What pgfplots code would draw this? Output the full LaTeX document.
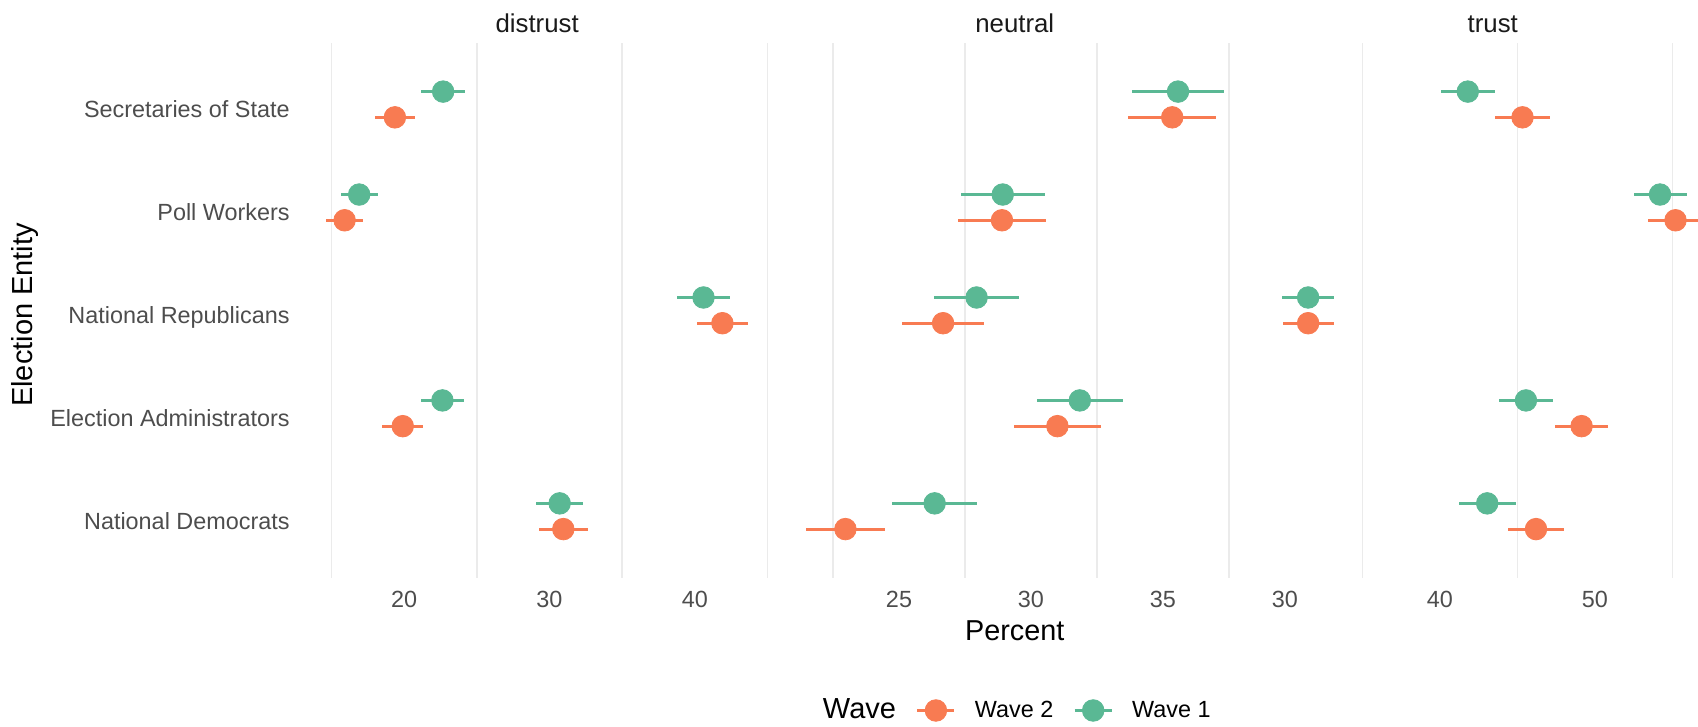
\documentclass[border=0pt]{standalone}
\usepackage{pgfplots}
\pgfplotsset{compat=1.18}
\usepackage{pgfplotstable}
\usepackage{fontspec}
\setmainfont{Liberation Sans}
\definecolor{wone}{HTML}{5AB894}
\definecolor{wtwo}{HTML}{F87B52}
\definecolor{axtext}{HTML}{4D4D4D}
\definecolor{striptext}{HTML}{1A1A1A}
\definecolor{gridc}{HTML}{EBEBEB}

% y: 1 National Democrats, 2 Election Administrators, 3 National Republicans, 4 Poll Workers, 5 Secretaries of State
% Wave 1 dodged +0.125, Wave 2 dodged -0.125
\pgfplotstableread{
y x e
5.125 22.68 1.50
4.125 16.90 1.28
3.125 40.60 1.80
2.125 22.63 1.50
1.125 30.70 1.60
}\distW
\pgfplotstableread{
y x e
4.875 19.36 1.36
3.875 15.90 1.25
2.875 41.90 1.76
1.875 19.90 1.42
0.875 30.95 1.70
}\distV
\pgfplotstableread{
y x e
5.125 35.57 1.74
4.125 28.93 1.60
3.125 27.94 1.60
2.125 31.85 1.64
1.125 26.35 1.60
}\neutW
\pgfplotstableread{
y x e
4.875 35.35 1.66
3.875 28.90 1.67
2.875 26.67 1.55
1.875 31.00 1.64
0.875 22.97 1.51
}\neutV
\pgfplotstableread{
y x e
5.125 41.80 1.75
4.125 54.20 1.71
3.125 31.50 1.68
2.125 45.55 1.75
1.125 43.05 1.83
}\trustW
\pgfplotstableread{
y x e
4.875 45.33 1.76
3.875 55.20 1.80
2.875 31.50 1.65
1.875 49.14 1.73
0.875 46.20 1.80
}\trustV

\pgfplotsset{
  panel/.style={
    scale only axis, height=267.65pt,
    ymin=0.4, ymax=5.6,
    axis line style={draw=none},
    tick style={draw=none},
    major tick length=0pt, minor tick length=0pt,
    xminorgrids=true, xmajorgrids=false, ymajorgrids=false,
    minor grid style={draw=gridc, line width=0.75pt},
    /pgf/number format/assume math mode=true,
    tick label style={font=\fontsize{11.7}{12}\selectfont, text=axtext, inner sep=0pt},
    xticklabel style={anchor=base, yshift=-14.65pt},
    title style={font=\fontsize{12.9}{13}\selectfont, text=striptext, at={(0.5,1)}, anchor=base, yshift=-0.8pt, inner sep=0pt},
  },
  ebar/.style={only marks, mark=*, mark size=5.4pt, color=#1,
    mark options={draw=none, fill=#1},
    error bars/.cd, x dir=both, x explicit, error mark=none,
    error bar style={line width=1.4pt, color=#1}},
}

\begin{document}
\begin{tikzpicture}
\useasboundingbox (0pt,0pt) rectangle (849pt,-363.5pt);

% distrust
\begin{axis}[panel, at={(152.7pt,-21.35pt)}, anchor=north west,
  width=231.75pt, xmin=13.2, xmax=45.1,
  xtick={20,30,40}, minor xtick={15,25,35,45},
  ytick={1,2,3,4,5},
  yticklabels={National Democrats, Election Administrators, National Republicans, Poll Workers, Secretaries of State},
  yticklabel style={anchor=base east, xshift=-7.7pt, yshift=-6.6pt},
  ylabel={Election Entity},
  ylabel style={font=\fontsize{14.5}{15}\selectfont, at={(axis description cs:-0.5888,0.4913)}, anchor=base, inner sep=0pt},
  title={distrust}]
\addplot[forget plot, ebar=wone] table[x=x, y=y, x error=e] {\distW};
\addplot[forget plot, ebar=wtwo] table[x=x, y=y, x error=e] {\distV};
\end{axis}

% neutral
\begin{axis}[panel, at={(392.35pt,-21.35pt)}, anchor=north west,
  width=230.05pt, xmin=20.67, xmax=38.10,
  xtick={25,30,35}, minor xtick={22.5,27.5,32.5,37.5},
  ytick=\empty,
  title={neutral},
  xlabel={Percent},
  xlabel style={font=\fontsize{14.4}{15}\selectfont, at={(axis description cs:0.5,0)}, anchor=base, yshift=-31.35pt, inner sep=0pt},
  legend columns=-1,
  legend style={at={(axis description cs:0.0419,-0.2475)}, anchor=west, draw=none, fill=none,
    inner sep=0pt, outer sep=0pt, font=\fontsize{11.7}{12}\selectfont,
    nodes={inner sep=0pt},
    /tikz/every odd column/.append style={column sep=9.5pt},
    /tikz/every even column/.append style={column sep=10pt}}]
\addplot[forget plot, ebar=wone] table[x=x, y=y, x error=e] {\neutW};
\addplot[forget plot, ebar=wtwo] table[x=x, y=y, x error=e] {\neutV};
\addlegendimage{empty legend}
\addlegendentry{\fontsize{14.5}{15}\selectfont Wave}
\addlegendimage{legend image code/.code={\draw[wtwo, line width=1.4pt] (0pt,0pt) -- (18.5pt,0pt); \fill[wtwo] (9.25pt,0pt) circle (5.4pt);}}
\addlegendentry{Wave 2}
\addlegendimage{legend image code/.code={\draw[wone, line width=1.4pt] (0pt,0pt) -- (18.5pt,0pt); \fill[wone] (9.25pt,0pt) circle (5.4pt);}}
\addlegendentry{Wave 1}
\end{axis}

% trust
\begin{axis}[panel, at={(630.5pt,-21.35pt)}, anchor=north west,
  width=231.75pt, xmin=28.46, xmax=58.36,
  xtick={30,40,50}, minor xtick={35,45,55},
  ytick=\empty,
  title={trust}]
\addplot[forget plot, ebar=wone] table[x=x, y=y, x error=e] {\trustW};
\addplot[forget plot, ebar=wtwo] table[x=x, y=y, x error=e] {\trustV};
\end{axis}
\end{tikzpicture}
\end{document}
